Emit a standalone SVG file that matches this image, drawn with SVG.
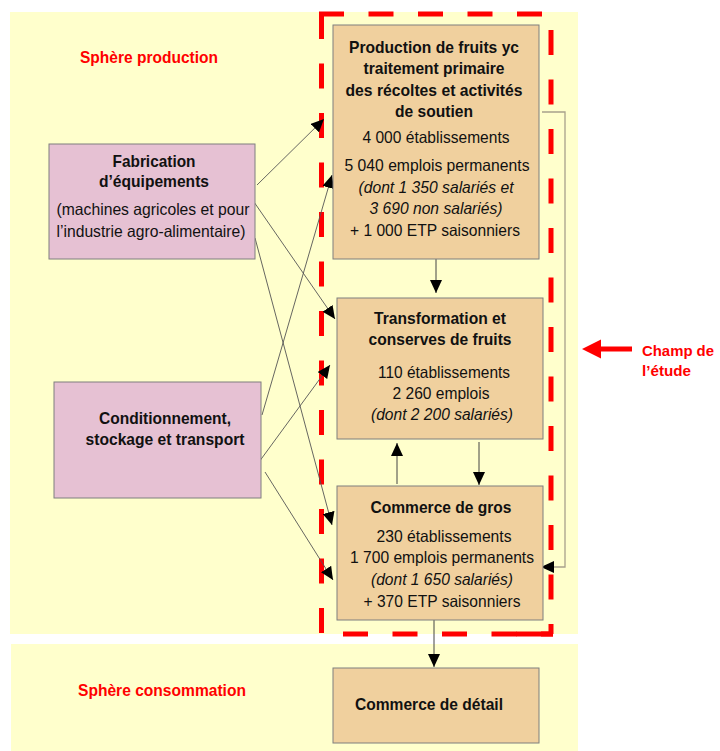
<svg xmlns="http://www.w3.org/2000/svg" width="720" height="751" viewBox="0 0 720 751">
<style>
.bg{fill:#FFFFCC}
.box{fill:#F0D09E;stroke:#7f7f7f;stroke-width:1}
.pink{fill:#E6C1D3;stroke:#7f7f7f;stroke-width:1}
text{font-family:"Liberation Sans",Arial,sans-serif;fill:#111}
.b{font-weight:bold;font-size:17px}
.n{font-size:16.5px}
.i{font-size:16.5px;font-style:italic}
.c{text-anchor:middle}
.red{fill:#FF0000;font-weight:bold;font-size:17px}
.sm{font-size:15.5px}
.dash{stroke:#FF0000;stroke-width:5;fill:none;stroke-dasharray:25 24.5}
.conn{stroke:#555;stroke-width:0.9;fill:none}
.vconn{stroke:#444;stroke-width:1;fill:none}
.brk{stroke:#A8A18C;stroke-width:1.3;fill:none}
</style>
<defs>
<marker id="ah" markerUnits="userSpaceOnUse" markerWidth="14" markerHeight="12" refX="13" refY="6" orient="auto">
<path d="M0,0 L13,6 L0,12 z" fill="#000"/>
</marker>
</defs>

<g id="background">
<rect class="bg" x="10" y="12" width="568" height="622"/>
<rect class="bg" x="11" y="644" width="567" height="107"/>
</g>

<g id="labels">
<text class="red" x="80" y="63" textLength="138" lengthAdjust="spacingAndGlyphs">Sphère production</text>
<text class="red" x="78" y="696" textLength="168" lengthAdjust="spacingAndGlyphs">Sphère consommation</text>
</g>

<g id="champ">
<line class="dash" x1="321.5" y1="14" x2="321.5" y2="634"/>
<line class="dash" x1="319" y1="14" x2="551" y2="14"/>
<line class="dash" x1="551" y1="14" x2="551" y2="634" style="stroke-dashoffset:33.5"/>
<line class="dash" x1="321.5" y1="634" x2="553" y2="634" style="stroke-dashoffset:28"/>
<line x1="516" y1="634" x2="553" y2="634" stroke="#FF0000" stroke-width="5"/>
<polygon points="582,349 601,339.5 601,346.5 632,346.5 632,351.5 601,351.5 601,358.5" fill="#FF0000"/>
<text class="red sm" x="642" y="356" textLength="72" lengthAdjust="spacingAndGlyphs">Champ de</text>
<text class="red sm" x="642" y="376" textLength="49" lengthAdjust="spacingAndGlyphs">l’étude</text>
</g>

<g id="connectors">
<line class="conn" x1="257" y1="185" x2="324" y2="119" marker-end="url(#ah)"/>
<line class="conn" x1="254" y1="202" x2="335" y2="319" marker-end="url(#ah)"/>
<line class="conn" x1="255" y1="238" x2="332" y2="525" marker-end="url(#ah)"/>
<line class="conn" x1="262" y1="415" x2="332" y2="175" marker-end="url(#ah)"/>
<line class="conn" x1="259" y1="462" x2="330" y2="365" marker-end="url(#ah)"/>
<line class="conn" x1="265" y1="472" x2="333" y2="580" marker-end="url(#ah)"/>
<line class="vconn" x1="436" y1="259" x2="436" y2="293" marker-end="url(#ah)"/>
<line class="vconn" x1="397" y1="484" x2="397" y2="443" marker-end="url(#ah)"/>
<line class="vconn" x1="479" y1="442" x2="479" y2="485" marker-end="url(#ah)"/>
<line class="vconn" x1="434" y1="620" x2="434" y2="667" marker-end="url(#ah)"/>
<path class="brk" d="M542,112 H565 V567 H541" marker-end="url(#ah)"/>
</g>

<g id="production">
<rect class="box" x="333" y="25" width="206" height="234"/>
<text class="b c" x="434" y="53" textLength="170" lengthAdjust="spacingAndGlyphs">Production de fruits yc</text>
<text class="b c" x="434" y="74" textLength="141" lengthAdjust="spacingAndGlyphs">traitement primaire</text>
<text class="b c" x="434" y="96" textLength="177" lengthAdjust="spacingAndGlyphs">des récoltes et activités</text>
<text class="b c" x="434" y="117" textLength="78" lengthAdjust="spacingAndGlyphs">de soutien</text>
<text class="n c" x="436" y="143" textLength="147" lengthAdjust="spacingAndGlyphs">4 000 établissements</text>
<text class="n c" x="437" y="171" textLength="185" lengthAdjust="spacingAndGlyphs">5 040 emplois permanents</text>
<text class="i c" x="436" y="193" textLength="155" lengthAdjust="spacingAndGlyphs">(dont 1 350 salariés et</text>
<text class="i c" x="436" y="214" textLength="133" lengthAdjust="spacingAndGlyphs">3 690 non salariés)</text>
<text class="n c" x="435" y="236" textLength="170" lengthAdjust="spacingAndGlyphs">+ 1 000 ETP saisonniers</text>
</g>

<g id="transformation">
<rect class="box" x="337" y="298" width="206" height="141"/>
<text class="b c" x="440" y="324" textLength="132" lengthAdjust="spacingAndGlyphs">Transformation et</text>
<text class="b c" x="440" y="345" textLength="143" lengthAdjust="spacingAndGlyphs">conserves de fruits</text>
<text class="n c" x="444" y="378" textLength="132" lengthAdjust="spacingAndGlyphs">110 établissements</text>
<text class="n c" x="441" y="399" textLength="97" lengthAdjust="spacingAndGlyphs">2 260 emplois</text>
<text class="i c" x="442" y="420" textLength="142" lengthAdjust="spacingAndGlyphs">(dont 2 200 salariés)</text>
</g>

<g id="commerce-gros">
<rect class="box" x="337" y="486" width="206" height="134"/>
<text class="b c" x="441" y="513" textLength="141" lengthAdjust="spacingAndGlyphs">Commerce de gros</text>
<text class="n c" x="444" y="542" textLength="135" lengthAdjust="spacingAndGlyphs">230 établissements</text>
<text class="n c" x="442" y="563" textLength="184" lengthAdjust="spacingAndGlyphs">1 700 emplois permanents</text>
<text class="i c" x="442" y="585" textLength="142" lengthAdjust="spacingAndGlyphs">(dont 1 650 salariés)</text>
<text class="n c" x="442" y="607" textLength="157" lengthAdjust="spacingAndGlyphs">+ 370 ETP saisonniers</text>
</g>

<g id="commerce-detail">
<rect class="box" x="333" y="668" width="206" height="75"/>
<text class="b c" x="429" y="710" textLength="148" lengthAdjust="spacingAndGlyphs">Commerce de détail</text>
</g>

<g id="fabrication">
<rect class="pink" x="49" y="144" width="206" height="115"/>
<text class="b c" x="154" y="167" textLength="83" lengthAdjust="spacingAndGlyphs">Fabrication</text>
<text class="b c" x="154" y="187" textLength="110" lengthAdjust="spacingAndGlyphs">d’équipements</text>
<text class="n c" x="153" y="215" textLength="193" lengthAdjust="spacingAndGlyphs">(machines agricoles et pour</text>
<text class="n c" x="151" y="237" textLength="189" lengthAdjust="spacingAndGlyphs">l’industrie agro-alimentaire)</text>
</g>

<g id="conditionnement">
<rect class="pink" x="54" y="382" width="207" height="116"/>
<text class="b c" x="165" y="424" textLength="132" lengthAdjust="spacingAndGlyphs">Conditionnement,</text>
<text class="b c" x="165" y="445" textLength="159" lengthAdjust="spacingAndGlyphs">stockage et transport</text>
</g>
</svg>
